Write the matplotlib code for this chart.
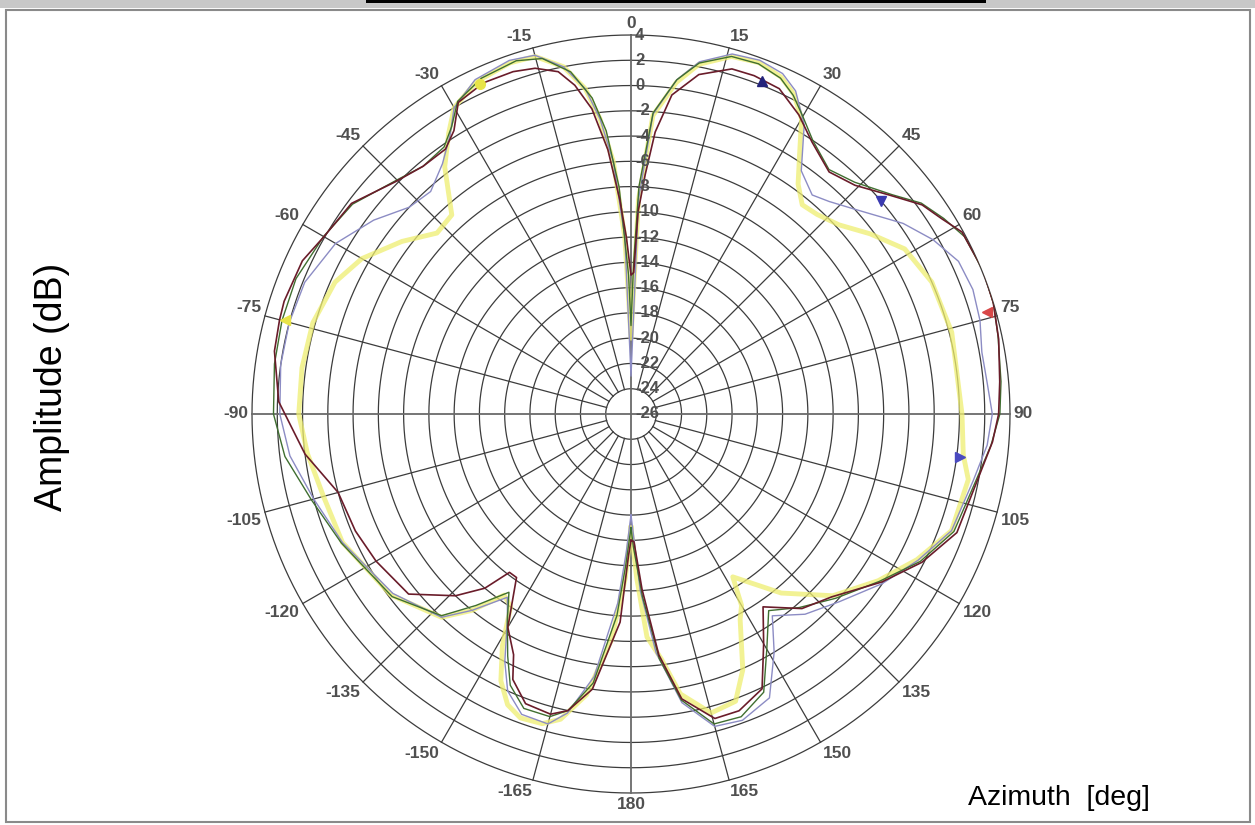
"""Polar antenna pattern: amplitude (dB) vs azimuth (deg), four measured traces."""

import numpy as np
import matplotlib
matplotlib.use("Agg")
import matplotlib.pyplot as plt
from matplotlib.patches import Rectangle

# ---- data (azimuth in deg, clockwise from top; amplitude in dB) ----
red_deg = [-180, -179, -177, -172, -168, -165, -160, -156, -154, -150, -145, -142.5, -140, -136,
           -129, -120, -113, -105, -97, -88, -80, -75, -72, -65, -60, -53, -45.5, -40, -35, -32,
           -29, -24, -19, -15.5, -12, -9.7, -7.3, -5, -3, -1.5, 0, 1.1, 2, 3.4, 4.9, 7.3, 11.3,
           16.3, 20, 24.5, 29.3, 33.6, 39.3, 44.4, 49.7, 54.3, 57.9, 61.2, 67.7, 72.9, 78.5, 85,
           90, 94.4, 101, 110, 117, 123.8, 132.3, 138.7, 145.6, 150, 154.5, 160, 164.6, 169.9,
           173.4, 176.4, 178.7, 180]
red_db = [-16, -14.8, -9.5, -4.0, -2.0, -1.4, -1.6, -3.0, -4.8, -6.5, -10.2, -10.2, -8.0, -6.0,
          -3.35, -2.7, -2.3, -2.0, 0.0, 1.9, 2.66, 2.8, 2.87, 2.7, 2.07, 1.7, 0.2, -0.4, -0.4, 0.45,
          2.2, 2.7, 2.66, 2.4, 1.7, 0.4, -1.65, -5, -9, -12, -15, -14.8, -10, -7.0, -3.6, -0.54, 1.4,
          2.46, 2.5, 2.3, 1.15, -0.13, -1.24, -0.66, 0.8, 2.37, 3.06, 3.9, 4.1, 4.0, 3.7, 3.3,
          3.1, 2.7, 1.9, 1.45, -0.15, -2.1, -4.5, -5.5, -7.5, -5.0, -1.9, -1.0, -1.0, -3.1,
          -6.8, -12.1, -15.9, -16]

green_deg = [-180, -178, -176, -172, -168, -165, -160, -156, -153, -149, -145.6, -141, -136.8,
             -127.4, -114, -105, -97, -90, -82, -75, -68, -60, -53, -45, -40, -35, -32, -29, -24,
             -18, -14, -10, -7, -5, -3, -1, 0, 1, 2, 4.2, 7.8, 11, 15.7, 20, 24, 27, 30, 33.6, 39,
             44, 50, 54, 58, 62, 68, 73, 78, 85, 90, 95, 101, 110, 117, 124, 132, 139, 145, 150,
             154.5, 160, 165, 170, 173.4, 176.4, 179, 180]
green_db = [-17, -14, -10, -4.5, -2.0, -1.2, -1.2, -2.5, -4.5, -7.0, -8.9, -6.5, -4.1,
            -2.2, -0.9, 0.2, 1.6, 2.3, 2.5, 2.6, 2.6, 2.1, 1.6, 0.2, -0.4, -0.2, 0.8, 2.3, 3.1,
            3.4, 3.0, 1.5, -0.8, -3.5, -8, -15, -19, -14, -8, -2.1, 0.7, 2.3, 3.4, 3.5, 3.1, 2.3,
            1.2, 0.0, -1.1, -0.5, 1.0, 2.4, 3.2, 3.9, 4.1, 4.0, 3.7, 3.4, 3.2, 2.6, 1.8, 1.2, -0.3,
            -2.3, -4.2, -5.7, -7.0, -4.5, -1.6, -0.5, -0.6, -3.0, -6.5, -11.5, -15.5, -17]

lilac_deg = [-180, -178, -176, -172, -168, -165, -160, -156, -153, -149, -146, -141, -137, -127,
             -114, -105, -97, -90, -82, -75, -68, -60, -53, -47, -42, -37, -33, -30, -25, -19,
             -15, -11, -8, -6, -4, -2, 0, 2, 4.2, 7.8, 11, 15.7, 20, 24, 27, 30.9, 35, 39.6, 43,
             47.5, 55, 60, 65, 70, 75, 80, 85, 90, 95, 101, 110, 117, 124, 132, 139, 145, 149,
             154, 160, 165, 170, 174, 177, 180]
lilac_db = [-18, -15, -11, -5, -1.8, -0.6, -0.7, -2.0, -4.0, -7.0, -8.5, -6.0, -4.0, -2.4,
            -1.0, 0.0, 1.2, 1.8, 2.0, 2.0, 1.85, 1.0, -0.5, -2.0, -2.3, -1.2, 0.3, 2.0, 3.2, 3.6,
            3.4, 2.0, 0.0, -2.5, -6, -12, -23, -9, -2.2, 0.7, 2.4, 3.6, 3.8, 3.5, 2.7, 0.7, -2.5,
            -3.5, -3.0, -2.0, 0.3, 1.6, 2.6, 2.8, 2.6, 2.2, 2.3, 2.6, 2.3, 1.6, 1.0, -0.5, -2.0,
            -3.8, -5.0, -6.5, -4.0, -1.0, -0.2, -0.4, -2.8, -7.0, -12, -18]

yellow_deg = [-180, -178, -175, -171, -167, -164, -160, -157, -154, -151, -148, -145, -141, -137,
              -127, -114, -105, -97, -90, -82, -74, -66, -60, -53, -47, -42, -37, -33, -30, -25,
              -19, -15, -11, -8, -6, -4, -2, 0, 2, 4.2, 7.8, 11, 15.7, 20, 24, 27, 30, 33, 36,
              39.3, 43, 47.7, 53, 58.9, 66.3, 75.7, 90, 97, 101, 110, 117, 124, 132, 140, 148,
              150, 152, 156.4, 160, 165, 170, 173, 175.9, 178, 180]
yellow_db = [-17, -13, -8, -3.5, -1.2, -0.5, -0.4, -1.0, -2.5, -5, -8, -8.5, -6.0, -4.0,
             -2.2, -1.0, -0.8, -0.2, 0.3, 0.3, 0.2, -0.35, -1.4, -3.3, -5.0, -4.8, -1.5, 0.5, 2.0,
             3.0, 3.4, 3.3, 2.0, 0.0, -2.5, -6, -12, -20, -9, -2.3, 0.5, 2.2, 3.4, 3.6, 3.2, 2.4,
             1.0, -1.5, -3.5, -4.6, -4.4, -3.75, -2.3, -0.7, 0.0, 0.2, 0.2, 0.5, 1.2, 1.0, -0.6,
             -2.4, -4.5, -7.5, -10.8, -8.5, -7.6, -3.9, -1.8, -1.5, -3.5, -6.5, -8.3, -13, -17]

# markers: (azimuth, dB, marker, colour)
marker_deg = [21.5, 49.5, 97.5, 74, -24.6, -74.8]
marker_db = [2.3, 0.0, 0.3, 3.3, 2.7, 2.4]
marker_sym = ["^", "v", ">", "<", "o", "<"]
marker_col = ["#23237a", "#3a3ab0", "#4a4ac0", "#d84848", "#e8e448", "#e8e448"]

ring_db = list(range(-24, 5, 2))
ring_labels = list(range(-26, 5, 2))
spoke_deg = list(range(-165, 181, 15))

R_MIN, R_MAX = -26, 4
GRID = "#3c3c3c"
LABEL = "#505050"

fig = plt.figure(figsize=(12.55, 8.25), dpi=100)
fig.patch.set_facecolor("white")

# window-like frame
fig.patches.append(Rectangle((0, 0.990), 1, 0.010, transform=fig.transFigure,
                             facecolor="#c8c8c8", edgecolor="none", zorder=0))
fig.patches.append(Rectangle((366 / 1255, 0.996), 620 / 1255, 0.004, transform=fig.transFigure,
                             facecolor="black", edgecolor="none", zorder=1))
fig.patches.append(Rectangle((6 / 1255, 3 / 825), 1244 / 1255, 812 / 825, transform=fig.transFigure,
                             facecolor="none", edgecolor="#8a8a8a", lw=1.5, zorder=1))

cx, cy, rad = 631, 825 - 414, 379
ax = fig.add_axes([(cx - rad) / 1255, (cy - rad) / 825, 2 * rad / 1255, 2 * rad / 825],
                  projection="polar")
ax.set_theta_zero_location("N")
ax.set_theta_direction(-1)
ax.set_ylim(R_MIN, R_MAX)
ax.grid(False)
ax.set_xticks([])
ax.set_yticks([])
ax.spines["polar"].set_visible(False)
ax.set_facecolor("none")

# rings
th = np.linspace(0, 2 * np.pi, 721)
for r in ring_db:
    ax.plot(th, np.full_like(th, r), color=GRID, lw=0.9, zorder=1, clip_on=False)

# spokes: main axes through centre, others stop at the inner ring
for d in spoke_deg:
    t = np.deg2rad(d)
    if d % 90 == 0:
        ax.plot([t, t], [R_MIN, R_MAX], color="#6a6a6a", lw=1.3, zorder=1, clip_on=False)
    else:
        ax.plot([t, t], [ring_db[0], R_MAX], color=GRID, lw=0.9, zorder=1, clip_on=False)

# angle labels
for d in spoke_deg:
    t = np.deg2rad(d)
    s = np.sin(t)
    c = np.cos(t)
    ha = "left" if s > 0.01 else ("right" if s < -0.01 else "center")
    va = "bottom" if c > 0.01 else ("top" if c < -0.01 else "center")
    ax.text(t, R_MAX + 0.3, str(d), ha=ha, va=va, fontsize=12.5, fontweight="bold",
            color=LABEL, family=["Liberation Sans", "DejaVu Sans"], zorder=5)

# radial labels along 0 deg
for v in ring_labels:
    ax.annotate(str(v), xy=(0, v), xytext=(3, 0), textcoords="offset points",
                ha="left", va="center", fontsize=12, fontweight="bold", color=LABEL,
                family=["Liberation Sans", "DejaVu Sans"], zorder=5)

# traces
ax.plot(np.deg2rad(yellow_deg), yellow_db, color="#eeee70", lw=3.5, alpha=0.75, zorder=2)
ax.plot(np.deg2rad(lilac_deg), lilac_db, color="#8c8cc4", lw=1.0, zorder=3)
ax.plot(np.deg2rad(green_deg), green_db, color="#3f6e30", lw=1.0, zorder=3)
ax.plot(np.deg2rad(red_deg), red_db, color="#6a1c2a", lw=1.2, zorder=4)

for d, v, m, c in zip(marker_deg, marker_db, marker_sym, marker_col):
    ax.plot(np.deg2rad(d), v, marker=m, color=c, markersize=7, zorder=6, clip_on=False)

fig.text(52 / 1255, 1 - 387 / 825, "Amplitude (dB)", rotation=90, ha="center", va="center",
         fontsize=27, family=["Liberation Sans", "DejaVu Sans"], color="black")
fig.text(968 / 1255, 1 - 798 / 825, "Azimuth  [deg]", ha="left", va="center",
         fontsize=20.5, family=["Liberation Sans", "DejaVu Sans"], color="black")

fig.savefig("out.png", dpi=100)
